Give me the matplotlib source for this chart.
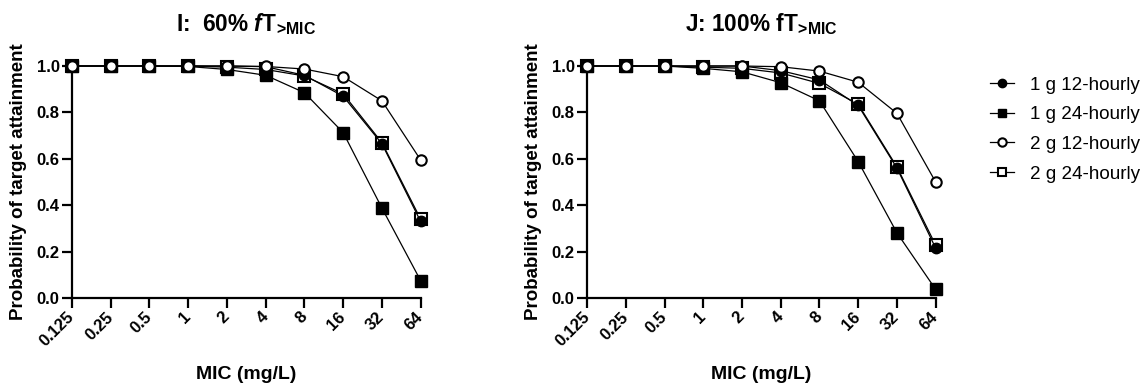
import numpy as np
import matplotlib
matplotlib.use("Agg")
import matplotlib.pyplot as plt

plt.rcParams['font.family'] = ['Liberation Sans', 'DejaVu Sans']
plt.rcParams['mathtext.fontset'] = 'custom'
plt.rcParams['mathtext.rm'] = 'Liberation Sans:bold'
plt.rcParams['mathtext.it'] = 'Liberation Sans:bold:italic'
plt.rcParams['mathtext.bf'] = 'Liberation Sans:bold'

mic_labels = ['0.125', '0.25', '0.5', '1', '2', '4', '8', '16', '32', '64']

# panel I: 60% fT>MIC
i_1g12 = [1, 1, 1, 1, 1, 0.997, 0.96, 0.87, 0.665, 0.33]
i_1g24 = [1, 1, 1, 0.998, 0.985, 0.96, 0.885, 0.713, 0.388, 0.075]
i_2g12 = [1, 1, 1, 1, 1, 0.998, 0.987, 0.954, 0.85, 0.595]
i_2g24 = [1, 1, 1, 1, 0.995, 0.985, 0.957, 0.88, 0.67, 0.34]

# panel J: 100% fT>MIC
j_1g12 = [1, 1, 1, 1, 1, 0.98, 0.94, 0.83, 0.56, 0.215]
j_1g24 = [1, 1, 1, 0.99, 0.975, 0.928, 0.85, 0.588, 0.281, 0.037]
j_2g12 = [1, 1, 1, 1, 1, 0.997, 0.978, 0.93, 0.796, 0.50]
j_2g24 = [1, 1, 1, 0.995, 0.99, 0.97, 0.925, 0.835, 0.565, 0.228]

names = ['1 g 12-hourly', '1 g 24-hourly', '2 g 12-hourly', '2 g 24-hourly']

fig = plt.figure(figsize=(11.43, 3.86), dpi=100)
ax1 = fig.add_axes([0.063, 0.228, 0.305, 0.601])
ax2 = fig.add_axes([0.5136, 0.228, 0.305, 0.601])

x = np.arange(len(mic_labels))

def draw(ax, s1, s2, s3, s4, title):
    kw = dict(color='black', lw=0.9, clip_on=False)
    h4, = ax.plot(x, s4, marker='s', ms=8, mfc='white', mec='black', mew=1.5, zorder=3, label=names[3], **kw)
    h1, = ax.plot(x, s1, marker='o', ms=7.5, mfc='black', mec='black', zorder=4, label=names[0], **kw)
    h2, = ax.plot(x, s2, marker='s', ms=8, mfc='black', mec='black', zorder=4, label=names[1], **kw)
    h3, = ax.plot(x, s3, marker='o', ms=7.5, mfc='white', mec='black', mew=1.5, zorder=5, label=names[2], **kw)
    ax.set_xlim(0, len(mic_labels) - 1)
    ax.set_ylim(0, 1.0)
    ax.set_xticks(x)
    ax.set_xticklabels(mic_labels, rotation=45, ha='right', va='center', rotation_mode='anchor',
                       fontweight='bold', fontsize=12)
    ax.set_yticks([0.0, 0.2, 0.4, 0.6, 0.8, 1.0])
    ax.set_yticklabels(['0.0', '0.2', '0.4', '0.6', '0.8', '1.0'], fontweight='bold', fontsize=12)
    for sp in ['top', 'right']:
        ax.spines[sp].set_visible(False)
    for sp in ['left', 'bottom']:
        ax.spines[sp].set_linewidth(1.6)
    ax.tick_params(width=1.6, length=7, direction='out')
    ax.tick_params(axis='x', pad=5)
    ax.tick_params(axis='y', pad=2)
    ax.set_xlabel('MIC (mg/L)', fontweight='bold', fontsize=14)
    ax.xaxis.set_label_coords(0.5, -0.295)
    ax.set_ylabel('Probability of target attainment', fontweight='bold', fontsize=13.5)
    ax.yaxis.set_label_coords(-0.13, 0.5)
    ax.set_title(title, fontweight='bold', fontsize=16.3, pad=0, y=1.15)
    return [h1, h2, h3, h4]

draw(ax1, i_1g12, i_1g24, i_2g12, i_2g24, r'I:  60% $\mathit{f}$T$_{\!>\!\mathrm{MIC}}$')
handles = draw(ax2, j_1g12, j_1g24, j_2g12, j_2g24, r'J: 100% fT$_{\!>\!\mathrm{MIC}}$')

fig.legend(handles=handles, loc='upper left', bbox_to_anchor=(0.866, 0.802), frameon=False,
           fontsize=13.6, handlelength=1.3, handletextpad=0.8, labelspacing=0.66,
           borderpad=0, borderaxespad=0, markerscale=0.8)

fig.savefig('out.png', dpi=100)
